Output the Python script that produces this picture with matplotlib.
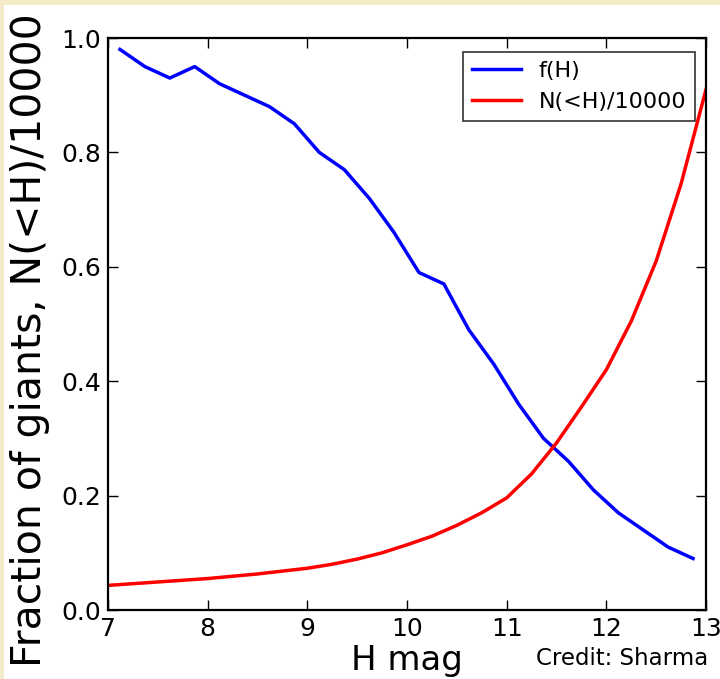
import numpy as np
import matplotlib
matplotlib.use("Agg")
import matplotlib.pyplot as plt
from matplotlib.patches import Rectangle

# f(H): fraction of giants per magnitude bin
h_bins = [7.12, 7.37, 7.62, 7.87, 8.12, 8.37, 8.62, 8.87, 9.12, 9.37, 9.62, 9.87,
          10.12, 10.37, 10.62, 10.87, 11.12, 11.37, 11.62, 11.87, 12.12, 12.37, 12.62, 12.87]
frac_giants = [0.98, 0.95, 0.93, 0.95, 0.92, 0.90, 0.88, 0.85, 0.80, 0.77, 0.72, 0.66,
               0.59, 0.57, 0.49, 0.43, 0.36, 0.30, 0.26, 0.21, 0.17, 0.14, 0.11, 0.09]

# cumulative counts N(<H) / 10000
h_cum = [7.0, 7.25, 7.5, 7.75, 8.0, 8.25, 8.5, 8.75, 9.0, 9.25, 9.5, 9.75,
         10.0, 10.25, 10.5, 10.75, 11.0, 11.25, 11.5, 11.75, 12.0, 12.25, 12.5, 12.75, 13.0]
n_cum = [0.043, 0.046, 0.049, 0.052, 0.055, 0.059, 0.063, 0.068, 0.073, 0.080, 0.089, 0.100,
         0.114, 0.129, 0.148, 0.170, 0.196, 0.238, 0.292, 0.355, 0.420, 0.505, 0.610, 0.745, 0.910]

x_ticks = [7, 8, 9, 10, 11, 12, 13]
y_ticks = [0.0, 0.2, 0.4, 0.6, 0.8, 1.0]


def main():
	fig = plt.figure(figsize=(7.2, 6.79), dpi=100, facecolor="#f3eac8")
	# white panel inside the cream border
	fig.patches.append(Rectangle((4/720, 0), 1, 1 - 5/679, transform=fig.transFigure,
	                             facecolor="white", edgecolor="none", zorder=-1))

	ax = fig.add_axes([108/720, 69/679, 598/720, 572/679])
	ax.plot(h_bins, frac_giants, color="blue", lw=2.5, label="f(H)")
	ax.plot(h_cum, n_cum, color="red", lw=2.5, label="N(<H)/10000")

	ax.set_xlim(7, 13)
	ax.set_ylim(0, 1)
	ax.set_xticks(x_ticks)
	ax.set_yticks(y_ticks)
	ax.set_yticklabels(["%.1f" % v for v in y_ticks])
	ax.tick_params(direction="in", length=7, width=1, labelsize=18,
	               top=True, right=True, pad=5)
	for sp in ax.spines.values():
		sp.set_linewidth(1.6)

	ax.set_xlabel("H mag", fontsize=24.5, labelpad=2)
	fig.text(30/720, 1 - 340/679, "Fraction of giants, N(<H)/10000", fontsize=29.5,
	         rotation=90, ha="center", va="center")

	leg = ax.legend(loc="upper right", bbox_to_anchor=(1 - 11/598, 1 - 14/572),
	                borderaxespad=0, fontsize=16, fancybox=False, handlelength=2.2,
	                frameon=True)
	leg.get_frame().set_edgecolor("black")
	leg.get_frame().set_linewidth(1.2)

	fig.text(708/720, 1 - 665/679, "Credit: Sharma", fontsize=16.5, ha="right", va="baseline")

	fig.savefig("out.png", dpi=100, facecolor=fig.get_facecolor())


if __name__ == "__main__":
	main()
